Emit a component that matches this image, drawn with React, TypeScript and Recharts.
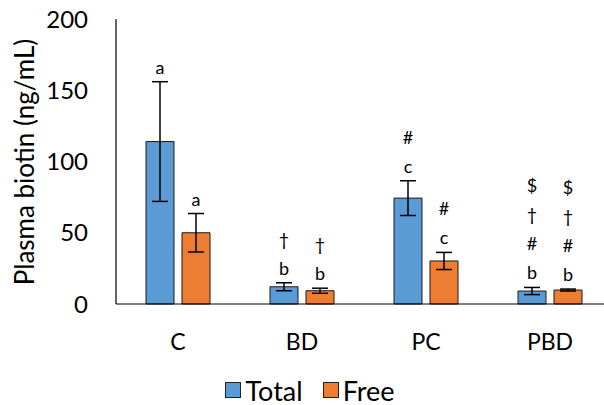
import React from "react";
import { BarChart, Bar, XAxis, YAxis, ErrorBar, LabelList, Legend } from "recharts";

const categories = ["C", "BD", "PC", "PBD"];
const totalValues = [114, 12.1, 74.3, 9.1];
const totalErrors = [42, 2.8, 12.2, 2.5];
const freeValues = [50, 9.3, 30.2, 9.8];
const freeErrors = [13.5, 1.8, 6, 0.7];
const totalMarks = [["a"], ["b", "†"], ["c", "#"], ["b", "#", "†", "$"]];
const freeMarks = [["a"], ["b", "†"], ["c", "#"], ["b", "#", "†", "$"]];
const yTicks = [0, 50, 100, 150, 200];

const data = categories.map((c, i) => ({
  name: c,
  total: totalValues[i],
  totalErr: totalErrors[i],
  free: freeValues[i],
  freeErr: freeErrors[i],
}));

const FONT = "Lato, 'Open Sans', sans-serif";
const BLUE = "#5B9BD5";
const ORANGE = "#ED7D31";

const makeMarks = (marks: string[][], errs: number[]) => (props: any) => {
  const { x, y, width, height, value, index } = props;
  if (value == null) return null;
  const pxPerUnit = height / value;
  const errTop = y - errs[index] * pxPerUnit;
  const cx = x + width / 2;
  return (
    <g>
      {marks[index].map((m, k) => (
        <text
          key={k}
          x={cx}
          y={errTop - 8 - k * 29}
          textAnchor="middle"
          fontFamily={FONT}
          fontSize={18}
          fill="#000"
        >
          {m}
        </text>
      ))}
    </g>
  );
};

const LABEL_X = 24;
const LABEL_Y = 162;

const renderYLabel = () => (
  <text
    x={LABEL_X}
    y={LABEL_Y}
    transform={`rotate(-90, ${LABEL_X}, ${LABEL_Y})`}
    textAnchor="middle"
    dominantBaseline="central"
    fontFamily={FONT}
    fontSize={26}
    fill="#000"
  >
    Plasma biotin (ng/mL)
  </text>
);

const renderLegend = () => (
  <div
    style={{
      display: "flex",
      justifyContent: "center",
      alignItems: "center",
      fontFamily: FONT,
      fontSize: 27,
      color: "#000",
      width: 604,
      height: 40,
      paddingLeft: 16,
      boxSizing: "border-box",
      marginTop: 8,
    }}
  >
    {[
      { label: "Total", color: BLUE },
      { label: "Free", color: ORANGE },
    ].map((it, i) => (
      <div key={i} style={{ display: "flex", alignItems: "center", marginRight: i === 0 ? 20 : 0 }}>
        <div
          style={{
            width: 14,
            height: 14,
            background: it.color,
            border: "1px solid #222",
            marginRight: 4,
          }}
        />
        <span>{it.label}</span>
      </div>
    ))}
  </div>
);

export default function App() {
  return (
    <div
      style={{
        position: "absolute",
        left: 0,
        top: 0,
        width: 604,
        height: 405,
        overflow: "hidden",
        background: "#fff",
      }}
    >
      <BarChart
        width={612}
        height={405}
        data={data}
        margin={{ top: 19, right: 0, bottom: 0, left: 0 }}
        barCategoryGap={30}
        barGap={8}
      >
        <XAxis
          dataKey="name"
          axisLine={{ stroke: "#000", strokeWidth: 1.2 }}
          tickLine={false}
          tickSize={0}
          tickMargin={30}
          height={58}
          tick={{ fontFamily: FONT, fontSize: 23, fill: "#000" }}
        />
        <YAxis
          domain={[0, 200]}
          ticks={yTicks}
          width={116}
          axisLine={{ stroke: "#000", strokeWidth: 1.2 }}
          tickLine={false}
          tickSize={0}
          tickMargin={28}
          tick={{ fontFamily: FONT, fontSize: 24, fill: "#000" }}
          label={{ content: renderYLabel }}
        />
        <Legend verticalAlign="bottom" height={43} content={renderLegend} wrapperStyle={{ left: 0, width: 604 }} />
        <Bar dataKey="total" name="Total" fill={BLUE} stroke="#1a1a1a" strokeWidth={1} isAnimationActive={false}>
          <ErrorBar dataKey="totalErr" width={8} stroke="#000" strokeWidth={1.5} />
          <LabelList dataKey="total" content={makeMarks(totalMarks, totalErrors)} />
        </Bar>
        <Bar dataKey="free" name="Free" fill={ORANGE} stroke="#1a1a1a" strokeWidth={1} isAnimationActive={false}>
          <ErrorBar dataKey="freeErr" width={8} stroke="#000" strokeWidth={1.5} />
          <LabelList dataKey="free" content={makeMarks(freeMarks, freeErrors)} />
        </Bar>
      </BarChart>
    </div>
  );
}
